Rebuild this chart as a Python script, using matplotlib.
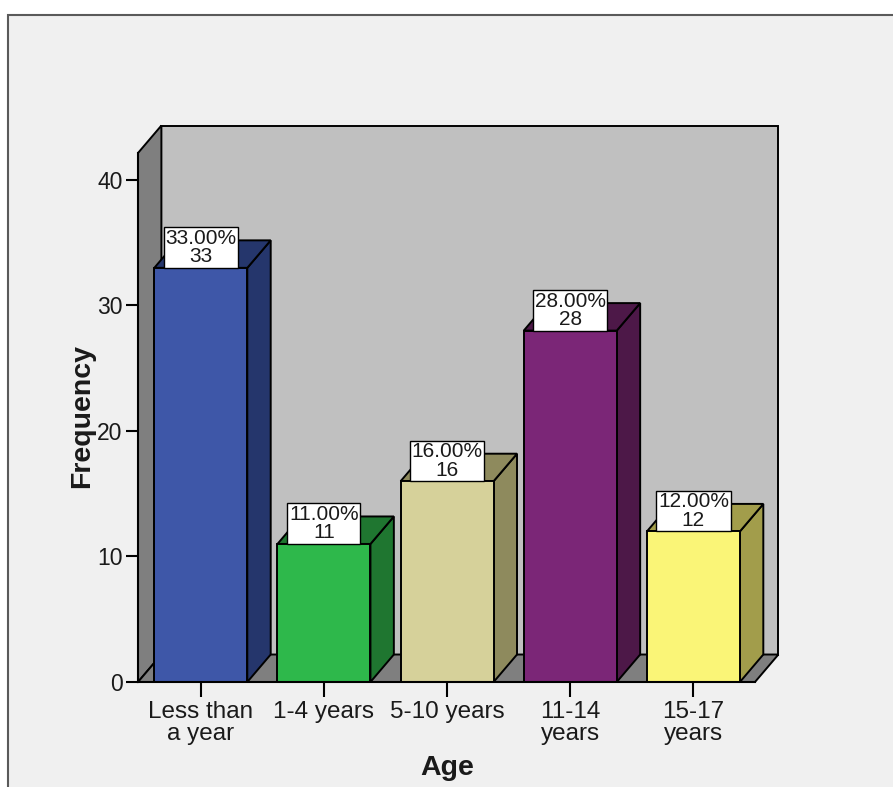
import matplotlib.pyplot as plt
from matplotlib.patches import Polygon, Rectangle

# Age groups and their frequencies
categories = ["Less than\na year", "1-4 years", "5-10 years", "11-14\nyears", "15-17\nyears"]
counts = [33, 11, 16, 28, 12]
front_colors = ["#3e57a8", "#2eb84b", "#d6d19a", "#7b2677", "#faf577"]
side_colors = ["#25366c", "#1f7630", "#8e8a5d", "#4d1848", "#a29d4b"]

total = sum(counts)
percents = [c / total * 100 for c in counts]

plt.rcParams['font.family'] = ['Liberation Sans', 'DejaVu Sans']

W, H = 893, 787
fig = plt.figure(figsize=(W / 100, H / 100), dpi=100)
fig.patch.set_facecolor('white')

# grey panel behind the chart
fig.patches.append(Rectangle((8 / W, -0.1), 1.0, 1.1 - 15 / H, transform=fig.transFigure,
                             fc='#f0f0f0', ec='#5a5a5a', lw=1.5, zorder=-5))

ax = fig.add_axes([138 / W, 105 / H, 617 / W, 529 / H])
ax.set_facecolor('none')
ax.set_xlim(-0.51, 4.5)
ax.set_ylim(0, 42.15)

# depth of the pseudo-3D box, in data units
dx, dy = 0.19, 2.19
x0, x1 = ax.get_xlim()
ymax = ax.get_ylim()[1]
edge = dict(ec='black', lw=1.4, clip_on=False)

# back wall, side wall and floor
ax.add_patch(Rectangle((x0 + dx, dy), x1 - x0, ymax, fc='#c0c0c0', zorder=1, **edge))
ax.add_patch(Polygon([(x0, 0), (x0 + dx, dy), (x0 + dx, ymax + dy), (x0, ymax)],
                     fc='#7f7f7f', zorder=1, **edge))
ax.add_patch(Polygon([(x0, 0), (x1, 0), (x1 + dx, dy), (x0 + dx, dy)],
                     fc='#7f7f7f', zorder=1, **edge))

# 3D bars
w = 0.755
for i, (v, p, fc, sc) in enumerate(zip(counts, percents, front_colors, side_colors)):
    l, r = i - w / 2, i + w / 2
    ax.add_patch(Polygon([(r, 0), (r + dx, dy), (r + dx, v + dy), (r, v)], fc=sc, zorder=3, **edge))
    ax.add_patch(Polygon([(l, v), (r, v), (r + dx, v + dy), (l + dx, v + dy)], fc=sc, zorder=3, **edge))
    ax.add_patch(Rectangle((l, 0), w, v, fc=fc, zorder=4, **edge))
    ax.annotate(f"{p:.2f}%\n{v}", xy=(i, v), xytext=(0, 1.2), textcoords='offset points',
                ha='center', va='bottom', fontsize=15, linespacing=0.95, color='#1a1a1a',
                bbox=dict(boxstyle='square,pad=0.08', fc='white', ec='black', lw=1.0), zorder=6)

for side in ['top', 'right']:
    ax.spines[side].set_visible(False)
for side in ['left', 'bottom']:
    ax.spines[side].set_linewidth(1.5)
    ax.spines[side].set_zorder(5)

ax.set_yticks([0, 10, 20, 30, 40])
ax.set_xticks(range(len(categories)), categories)
ax.tick_params(axis='y', length=9, width=1.5, labelsize=16.5, pad=2, labelcolor='#1a1a1a')
ax.tick_params(axis='x', length=11, width=1.5, labelsize=17.5, pad=3, labelcolor='#1a1a1a')
for t in ax.get_xticklabels():
    t.set_linespacing(0.98)

ax.set_ylabel('Frequency', fontsize=20.5, fontweight='bold', color='#1a1a1a')
ax.yaxis.set_label_coords(-0.07, 0.503)
ax.set_xlabel('Age', fontsize=20.5, fontweight='bold', color='#1a1a1a')
ax.xaxis.set_label_coords(0.5008, -0.138)

fig.savefig('out.png', dpi=100)
